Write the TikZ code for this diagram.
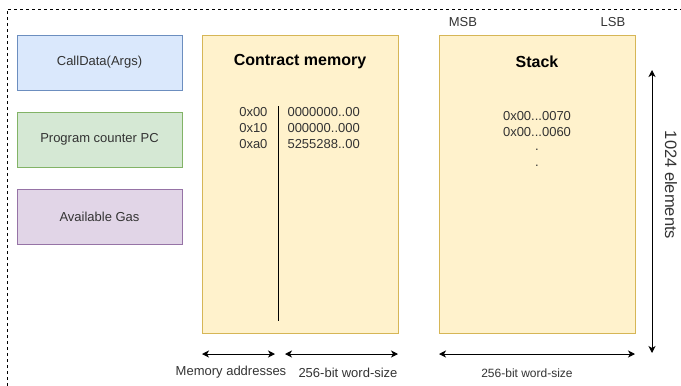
\documentclass[tikz,border=0pt]{standalone}
\usepackage{fontspec}
\setmainfont{Liberation Sans}
\usetikzlibrary{arrows.meta}
\definecolor{blueFill}{HTML}{DAE8FC}
\definecolor{blueLine}{HTML}{6C8EBF}
\definecolor{greenFill}{HTML}{D5E8D4}
\definecolor{greenLine}{HTML}{82B366}
\definecolor{purpleFill}{HTML}{E1D5E7}
\definecolor{purpleLine}{HTML}{9673A6}
\definecolor{yellowFill}{HTML}{FFF2CC}
\definecolor{yellowLine}{HTML}{D6B656}
\definecolor{txt}{HTML}{333333}

\begin{document}
\begin{tikzpicture}[x=1pt,y=-1pt,
    >={Stealth[length=7pt,width=7pt,inset=2pt]},
    every node/.style={text=txt,font=\fontsize{13}{15}\selectfont},
    regbox/.style={draw,line width=1pt,minimum width=165pt,minimum height=55pt},
    membox/.style={draw=yellowLine,fill=yellowFill,line width=1pt,minimum width=196pt,minimum height=298pt},
    title/.style={text=black,font=\fontsize{16}{18}\selectfont\bfseries},
    small/.style={font=\fontsize{12}{14}\selectfont}]
        \useasboundingbox (0,0) rectangle (681,386);
        \draw[dash pattern=on 3pt off 3pt] (7,386) -- (7,9) -- (681,9);

        \node[regbox,draw=blueLine,fill=blueFill] (calldata) at (99.5,62.5) {CallData(Args)};
        \node[regbox,draw=greenLine,fill=greenFill] (pc) at (99.5,139.5) {Program counter PC};
        \node[regbox,draw=purpleLine,fill=purpleFill] (gas) at (99.5,216.5) {Available Gas};

        % contract memory
        \node[membox] (memory) at (300,184) {};
        \node[title] (memtitle) at (300,62) {Contract memory};
        \node[anchor=east] (addr1) at (271,112) {0x00};
        \node[anchor=east] (addr2) at (271,128) {0x10};
        \node[anchor=east] (addr3) at (271,144) {0xa0};
        \node[anchor=west] (word1) at (284,112) {0000000..00};
        \node[anchor=west] (word2) at (284,128) {000000..000};
        \node[anchor=west] (word3) at (284,144) {5255288..00};
        \coordinate (sepTop) at (278,106);
        \coordinate (sepBot) at (278,321);
        \draw[line width=1pt] (sepTop) -- (sepBot);

        % stack
        \node[membox] (stack) at (537,184) {};
        \node[title] (stacktitle) at (537,62) {Stack};
        \node (val1) at (537,116) {0x00...0070};
        \node (val2) at (537,132) {0x00...0060};
        \node (dot1) at (537,150) {.};
        \node (dot2) at (537,166) {.};
        \node (msb) at (463,22) {MSB};
        \node (lsb) at (613,22) {LSB};

        \coordinate (depthTop) at (652,70);
        \coordinate (depthBot) at (652,353);
        \draw[<->,line width=1pt] (depthTop) -- (depthBot);
        \node[rotate=-90,font=\fontsize{16.5}{18}\selectfont] (depth) at (671,185) {1024 elements};

        % widths
        \coordinate (addrL) at (202,354);
        \coordinate (addrR) at (275,354);
        \coordinate (wordL) at (285,354);
        \coordinate (wordR) at (398,354);
        \coordinate (stackL) at (439,354);
        \coordinate (stackR) at (635,354);
        \draw[<->,line width=1pt] (addrL) -- (addrR);
        \draw[<->,line width=1pt] (wordL) -- (wordR);
        \draw[<->,line width=1pt] (stackL) -- (stackR);
        \node (addrlabel) at (231,372) {Memory addresses};
        \node (wordlabel) at (348,373) {256-bit word-size};
        \node[small] (stacklabel) at (527,373) {256-bit word-size};
    \end{tikzpicture}
\end{document}
